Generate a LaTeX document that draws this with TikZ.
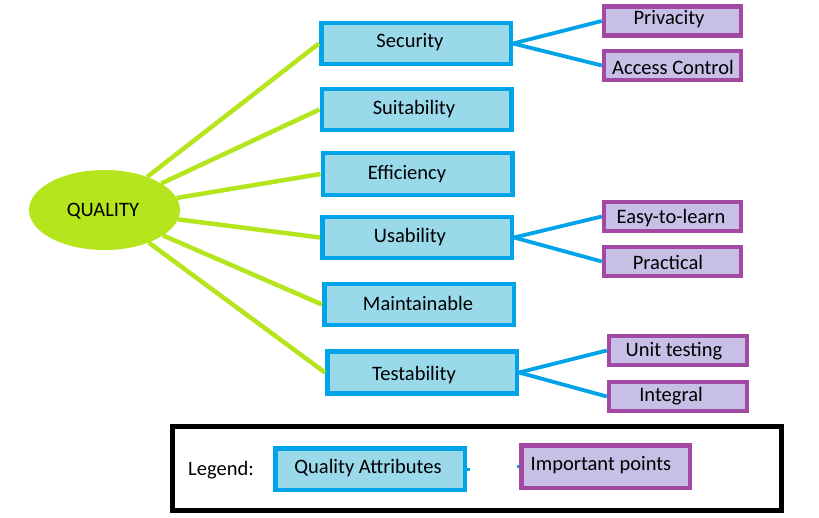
\documentclass[tikz,border=0pt]{standalone}
\usepackage{fontspec}
\setmainfont{Carlito}
\usetikzlibrary{shapes.geometric}
\definecolor{qfill}{HTML}{99D9EA}
\definecolor{qline}{HTML}{00A2E8}
\definecolor{pfill}{HTML}{C8BFE7}
\definecolor{pline}{HTML}{A349A4}
\definecolor{lime}{HTML}{B5E61D}
\begin{document}
\begin{tikzpicture}[x=1pt,y=-1pt,
  every node/.style={font=\fontsize{20.5}{24}\selectfont, text=black},
  qbox/.style={draw=qline, fill=qfill, line width=4.5pt, inner sep=0pt,
    minimum width=189.5pt, minimum height=41pt},
  pbox/.style={draw=pline, fill=pfill, line width=4.5pt, inner sep=0pt,
    minimum width=137pt, minimum height=29pt},
  lbl/.style={inner sep=0pt, anchor=center},
  gline/.style={draw=lime, line width=4.5pt},
  bline/.style={draw=qline, line width=3.8pt}]
\useasboundingbox (0,0) rectangle (819,518);
\fill[white] (0,0) rectangle (819,518);

% central ellipse
\node[ellipse, fill=lime, minimum width=151pt, minimum height=80pt, inner sep=0pt] (q) at (104.5,210) {};
\node[lbl] (qt) at (103,211) {QUALITY};

% quality attribute boxes
\node[qbox] (sec) at (416,43.5) {};
\node[qbox] (sui) at (416.5,109.5) {};
\node[qbox, minimum height=42pt] (eff) at (417.5,174) {};
\node[qbox] (usa) at (417,237.5) {};
\node[qbox] (mai) at (419,304.5) {};
\node[qbox, minimum height=42pt] (tes) at (422,372.5) {};

\node[lbl] (sect) at (410,42) {Security};
\node[lbl] (suit) at (414,109) {Suitability};
\node[lbl] (efft) at (407,174) {Efficiency};
\node[lbl] (usat) at (410,237) {Usability};
\node[lbl] (mait) at (418,303) {Maintainable};
\node[lbl] (test) at (414,375) {Testability};

% important points
\node[pbox] (pri) at (672.5,21) {};
\node[pbox] (acc) at (672.5,65.5) {};
\node[pbox] (eas) at (672.5,216.5) {};
\node[pbox] (pra) at (672.5,261.5) {};
\node[pbox, minimum width=138pt] (uni) at (678,350.5) {};
\node[pbox, minimum width=138pt] (int) at (678,396.5) {};

\node[lbl] (prit) at (669,19) {Privacity};
\node[lbl] (acct) at (673,67) {Access Control};
\node[lbl] (east) at (671,218) {Easy-to-learn};
\node[lbl] (prat) at (668,262) {Practical};
\node[lbl] (unit) at (674,351) {Unit testing};
\node[lbl] (intt) at (671,396) {Integral};

% green connectors
\draw[gline] (q) -- (sec.west);
\draw[gline] (q) -- (sui.west);
\draw[gline] (q) -- (eff.west);
\draw[gline] (q) -- (usa.west);
\draw[gline] (q) -- (mai.west);
\draw[gline] (q) -- (tes.west);

% blue connectors
\draw[bline] (sec.east) -- (pri.west);
\draw[bline] (sec.east) -- (acc.west);
\draw[bline] (usa.east) -- (eas.west);
\draw[bline] (usa.east) -- (pra.west);
\draw[bline] (tes.east) -- (uni.west);
\draw[bline] (tes.east) -- (int.west);

% legend
\node[draw=black, line width=5pt, minimum width=609pt, minimum height=84pt, inner sep=0pt] (leg) at (477,468.5) {};
\node[lbl] (legt) at (221,470) {Legend:};
\node[qbox, minimum height=41.5pt] (lqa) at (370,469) {};
\node[lbl] (lqat) at (368,468) {Quality Attributes};
\node[pbox, minimum width=168.5pt, minimum height=42.5pt] (lip) at (605.5,466.5) {};
\node[lbl] (lipt) at (601,465) {Important points};
\draw[bline, line width=3pt] (lqa.east) -- ++(2.5,0);
\draw[bline, line width=3pt] (lip.west) -- ++(-2.5,0);
\end{tikzpicture}
\end{document}
